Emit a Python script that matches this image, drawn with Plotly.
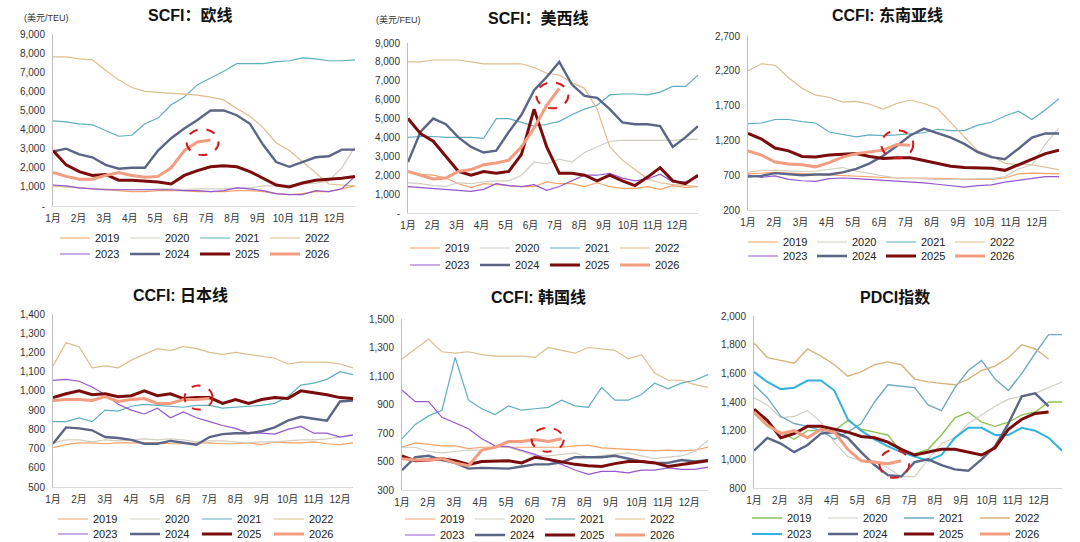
import plotly.graph_objects as go

# 运价指数季节性对比：SCFI / CCFI / PDCI

W, H = 1080, 542
YEARS = ["2019", "2020", "2021", "2022", "2023", "2024", "2025", "2026"]
MONTHS = [f"{m}月" for m in range(1, 13)]

# SCFI 欧线 (美元/TEU)
SCFI_EU = {
    "2019": [1050, 1000, 950, 900, 850, 800, 750, 750, 800, 800, 800, 750, 750, 750, 800, 800, 750, 650, 600, 650, 750, 750, 900, 1050],
    "2020": [1100, 1000, 950, 900, 900, 850, 850, 850, 900, 900, 850, 900, 900, 900, 950, 950, 1050, 1050, 1100, 1150, 1200, 1300, 2000, 3100],
    "2021": [4450, 4400, 4300, 4250, 3950, 3650, 3700, 4300, 4600, 5300, 5700, 6350, 6700, 7050, 7450, 7450, 7450, 7550, 7600, 7750, 7700, 7600, 7600, 7650],
    "2022": [7800, 7800, 7700, 7650, 7100, 6600, 6200, 6000, 5950, 5900, 5850, 5800, 5700, 5550, 5100, 4700, 4100, 3300, 2900, 2300, 1700, 1150, 1100, 1050],
    "2023": [1100, 1050, 950, 900, 850, 850, 850, 850, 850, 850, 800, 800, 750, 800, 950, 900, 800, 650, 600, 600, 800, 750, 900, 1550],
    "2024": [2850, 3000, 2700, 2550, 2150, 1950, 2000, 2000, 2900, 3550, 4050, 4500, 5000, 5000, 4750, 4300, 3200, 2300, 2050, 2300, 2550, 2600, 2950, 2950],
    "2025": [2900, 2150, 1800, 1600, 1650, 1350, 1350, 1300, 1250, 1150, 1600, 1850, 2050, 2100, 2050, 1800, 1450, 1100, 1000, 1200, 1350, 1400, 1450, 1550],
    "2026": [1750, 1550, 1400, 1400, 1600, 1750, 1600, 1500, 1550, 2000, 2900, 3350, 3450],
}

# SCFI 美西线 (美元/FEU)
SCFI_USW = {
    "2019": [2200, 2050, 2000, 1850, 1550, 1350, 1550, 1500, 1450, 1400, 1400, 1650, 1550, 1550, 1400, 1600, 1400, 1300, 1300, 1400, 1250, 1450, 1350, 1400],
    "2020": [1600, 1550, 1450, 1400, 1600, 1550, 1650, 1700, 1700, 2000, 2700, 2600, 2850, 2700, 3200, 3500, 3800, 3850, 3850, 3850, 3850, 3850, 3900, 3900],
    "2021": [4000, 4050, 4050, 4000, 4000, 4000, 3950, 5000, 5000, 4800, 4600, 4700, 4850, 5200, 5500, 5700, 6250, 6300, 6300, 6250, 6400, 6700, 6700, 7300],
    "2022": [8000, 8000, 8100, 8100, 8100, 8000, 7900, 7900, 7900, 7900, 7700, 7400, 7300, 6900, 6600, 5500, 3500, 2800, 2300, 1800, 1600, 1500, 1450, 1400],
    "2023": [1400, 1350, 1300, 1250, 1200, 1150, 1250, 1550, 1450, 1400, 1500, 1200, 1400, 1700, 2000, 2000, 2100, 1850, 1700, 1800, 2050, 1650, 1650, 1900],
    "2024": [2700, 4300, 5000, 4700, 4000, 3500, 3200, 3300, 4300, 5200, 6500, 7200, 8000, 6800, 6200, 6100, 5500, 4800, 4700, 4700, 4600, 3500, 4000, 4600],
    "2025": [5000, 4200, 3800, 3000, 2200, 2000, 2200, 2100, 2200, 3100, 5500, 3500, 2100, 2100, 2000, 1700, 2000, 1700, 1450, 1900, 2400, 1700, 1550, 2000],
    "2026": [2200, 2000, 1800, 1850, 2200, 2300, 2550, 2650, 2800, 3500, 4500, 5700, 6600],
}

# CCFI 东南亚线
CCFI_SEA = {
    "2019": [720, 730, 740, 730, 720, 710, 700, 690, 690, 680, 670, 660, 660, 660, 650, 650, 640, 640, 640, 660, 720, 730, 730, 720],
    "2020": [740, 770, 770, 760, 750, 760, 790, 810, 760, 720, 690, 660, 650, 650, 640, 640, 650, 650, 650, 680, 790, 850, 1150, 1380],
    "2021": [1440, 1450, 1500, 1500, 1470, 1450, 1320, 1280, 1250, 1280, 1270, 1280, 1300, 1310, 1360, 1340, 1340, 1420, 1460, 1550, 1620, 1500, 1640, 1800],
    "2022": [2200, 2300, 2280, 2100, 1950, 1850, 1820, 1750, 1760, 1720, 1650, 1730, 1780, 1730, 1660, 1450, 1250, 1050, 980, 870, 850, 850, 820, 780],
    "2023": [700, 670, 690, 640, 620, 610, 650, 660, 650, 640, 630, 610, 600, 590, 570, 550, 530, 550, 560, 600, 630, 660, 680, 680],
    "2024": [680, 690, 730, 720, 700, 710, 710, 740, 790, 870, 980, 1120, 1270, 1370, 1300, 1240, 1150, 1030, 960, 930, 1080, 1240, 1300, 1300],
    "2025": [1300, 1220, 1090, 1050, 970, 960, 990, 1000, 1010, 970, 940, 950, 950, 910, 870, 830, 810, 810, 800, 770, 850, 940, 1010, 1060],
    "2026": [1050, 990, 890, 860, 850, 820, 880, 960, 1010, 1040, 1060, 1140, 1130],
}

# CCFI 日本线
CCFI_JP = {
    "2019": [705, 720, 730, 730, 725, 730, 730, 730, 730, 725, 725, 730, 730, 725, 725, 730, 720, 735, 730, 730, 735, 725, 720, 730],
    "2020": [730, 745, 745, 735, 745, 740, 745, 750, 745, 750, 745, 735, 740, 740, 735, 730, 735, 735, 740, 745, 745, 750, 760, 775],
    "2021": [840, 840, 860, 840, 900, 895, 920, 930, 925, 920, 915, 925, 925, 910, 915, 920, 925, 935, 970, 1030, 1040, 1060, 1100, 1085],
    "2022": [1130, 1250, 1230, 1120, 1130, 1120, 1160, 1190, 1220, 1210, 1230, 1220, 1200, 1190, 1200, 1190, 1180, 1170, 1140, 1150, 1150, 1150, 1140, 1120],
    "2023": [1055, 1060, 1050, 1020, 980, 930, 900, 880, 910, 860, 890, 860, 840, 820, 805, 780, 780, 775, 800, 815, 780, 780, 760, 770],
    "2024": [725, 810, 805, 795, 760, 755, 745, 725, 725, 740, 730, 720, 760, 775, 780, 780, 790, 810, 845, 865, 855, 845, 945, 950],
    "2025": [965, 985, 1000, 980, 985, 970, 975, 1000, 975, 985, 960, 965, 965, 935, 955, 935, 955, 965, 960, 1000, 990, 980, 965, 960],
    "2026": [950, 955, 955, 950, 970, 945, 955, 960, 935, 935, 955, 955, 960],
}

# CCFI 韩国线
CCFI_KR = {
    "2019": [600, 630, 620, 610, 610, 590, 600, 600, 600, 600, 595, 600, 600, 610, 615, 595, 590, 585, 575, 575, 580, 575, 580, 600],
    "2020": [600, 600, 570, 560, 570, 580, 580, 600, 600, 570, 540, 540, 550, 560, 530, 540, 550, 560, 540, 520, 530, 540, 570, 650],
    "2021": [660, 760, 820, 860, 1230, 930, 870, 830, 890, 860, 870, 880, 930, 890, 880, 1020, 930, 930, 970, 1050, 1010, 1050, 1070, 1110],
    "2022": [1220, 1290, 1360, 1270, 1260, 1270, 1250, 1240, 1240, 1240, 1230, 1300, 1280, 1260, 1300, 1290, 1280, 1220, 1250, 1120, 1070, 1070, 1040, 1020],
    "2023": [1000, 920, 920, 810, 770, 730, 660, 610, 605, 580, 550, 510, 480, 440, 410, 430, 430, 420, 440, 440, 455, 445, 445, 460],
    "2024": [440, 530, 540, 510, 490, 450, 455, 455, 450, 465, 480, 480, 495, 530, 530, 530, 540, 520, 500, 490, 490, 510, 500, 510],
    "2025": [540, 505, 510, 520, 505, 480, 500, 505, 505, 490, 530, 515, 495, 480, 470, 465, 485, 500, 500, 490, 465, 480, 495, 505],
    "2026": [520, 510, 510, 520, 490, 470, 580, 600, 640, 640, 655, 640, 660],
}

# PDCI 指数
PDCI = {
    "2019": [1320, 1230, 1190, 1140, 1200, 1200, 1200, 1270, 1210, 1190, 1170, 1050, 1040, 1070, 1170, 1290, 1330, 1260, 1230, 1260, 1310, 1330, 1400, 1400],
    "2020": [1430, 1380, 1290, 1300, 1340, 1260, 1120, 1020, 990, 990, 940, 880, 880, 1000, 1110, 1150, 1250, 1310, 1370, 1420, 1440, 1460, 1500, 1540],
    "2021": [1520, 1430, 1300, 1250, 1230, 1200, 1140, 1190, 1250, 1400, 1520, 1510, 1500, 1380, 1340, 1500, 1620, 1690, 1560, 1480, 1600, 1740, 1870, 1870],
    "2022": [1810, 1710, 1690, 1670, 1770, 1720, 1660, 1580, 1610, 1660, 1680, 1660, 1560, 1540, 1530, 1520, 1560, 1620, 1650, 1710, 1800, 1770, 1700],
    "2023": [1610, 1540, 1490, 1500, 1550, 1550, 1480, 1280, 1200, 1140, 1090, 1050, 1020, 990, 1030, 1150, 1220, 1220, 1170, 1170, 1220, 1200, 1150, 1060],
    "2024": [1060, 1150, 1110, 1050, 1100, 1180, 1190, 1150, 1050, 960, 890, 880, 980, 1000, 960, 930, 920, 1000, 1090, 1250, 1440, 1460, 1370],
    "2025": [1350, 1270, 1150, 1180, 1230, 1230, 1210, 1190, 1160, 1150, 1120, 1070, 1030, 1050, 1070, 1070, 1050, 1030, 1080, 1210, 1280, 1320, 1330],
    "2026": [1330, 1240, 1180, 1200, 1150, 1210, 1190, 1070, 990, 980, 970, 990],
}

COLORS = {"2019": "#F5A267", "2020": "#D2CEC4", "2021": "#5FAEC0", "2022": "#DDBD8E",
          "2023": "#9556CF", "2024": "#5B6586", "2025": "#7A0C0C", "2026": "#F39C80"}
COLORS_PDCI = dict(COLORS, **{"2019": "#8CC356", "2021": "#6FA8C6", "2022": "#D8B27B", "2023": "#33B1E0"})
WIDTHS = {"2019": 1.2, "2020": 1.2, "2021": 1.2, "2022": 1.2, "2023": 1.2, "2024": 2.4, "2025": 3.0, "2026": 3.0}
WIDTHS_PDCI = dict(WIDTHS, **{"2019": 1.4, "2021": 1.4, "2022": 1.4, "2023": 2.0})

FONT = "Liberation Sans, Arial, Noto Sans CJK SC, sans-serif"

# box = (left, right, top, bottom) in pixels
# ell = (dx, dy, rx, ry): ellipse centre offset from the last 2026 point, screen pixels
PANELS = [
    dict(title="SCFI：欧线", data=SCFI_EU, box=(53, 355, 34, 206), xend=12.8, yr=(0, 9000, 1000),
         dash0=True, title_xy=(190, 15), unit="(美元/TEU)", unit_xy=(46, 18),
         leg=(55, 238, 254), entry=25, colors=COLORS, widths=WIDTHS, ell=(-8, 2, 16, 13)),
    dict(title="SCFI：美西线", data=SCFI_USW, box=(408, 698, 43, 213), xend=12.84, yr=(0, 9000, 1000),
         dash0=True, title_xy=(538, 18), unit="(美元/FEU)", unit_xy=(398, 20),
         leg=(405, 248, 265), entry=25, colors=COLORS, widths=WIDTHS, ell=(-7, 7, 16, 13)),
    dict(title="CCFI: 东南亚线", data=CCFI_SEA, box=(748, 1059, 36, 210), xend=12.83, yr=(200, 2700, 500),
         dash0=False, title_xy=(887, 15), unit=None, unit_xy=None,
         leg=(743, 242, 256), entry=24, colors=COLORS, widths=WIDTHS, ell=(-13, -1, 16, 14)),
    dict(title="CCFI: 日本线", data=CCFI_JP, box=(53, 353, 314, 487), xend=12.5, yr=(500, 1400, 100),
         dash0=False, title_xy=(180, 295), unit=None, unit_xy=None,
         leg=(53, 519, 534), entry=27, colors=COLORS, widths=WIDTHS, ell=(-11, -1, 14, 12)),
    dict(title="CCFI: 韩国线", data=CCFI_KR, box=(402, 708, 319, 490), xend=12.72, yr=(300, 1500, 200),
         dash0=False, title_xy=(538, 297), unit=None, unit_xy=None,
         leg=(400, 519, 535), entry=25, colors=COLORS, widths=WIDTHS, ell=(-14, 1, 16, 12)),
    dict(title="PDCI指数", data=PDCI, box=(754, 1062, 316, 488), xend=12.89, yr=(800, 2000, 200),
         dash0=False, title_xy=(895, 297), unit=None, unit_xy=None,
         leg=(747, 518, 534), entry=31, colors=COLORS_PDCI, widths=WIDTHS_PDCI, ell=(-7, 3, 15, 14)),
]


def fx(p):
    return p / W


def fy(p):
    return 1 - p / H


fig = go.Figure()
layout = dict(width=W, height=H, margin=dict(l=0, r=0, t=0, b=0, autoexpand=False),
              paper_bgcolor="white", plot_bgcolor="white",
              font=dict(family=FONT, color="#333333"), showlegend=True)
annotations = []
shapes = []

for k, p in enumerate(PANELS, start=1):
    xa = "x" if k == 1 else f"x{k}"
    ya = "y" if k == 1 else f"y{k}"
    leg1 = "legend" if k == 1 else f"legend{2 * k - 1}"
    leg2 = f"legend{2 * k}"
    step = (p["xend"] - 1) / 23

    for i, yr in enumerate(YEARS):
        vals = p["data"][yr]
        xs = [1 + j * step for j in range(len(vals))]
        fig.add_trace(go.Scatter(
            x=xs, y=vals, mode="lines", name=yr,
            line=dict(color=p["colors"][yr], width=p["widths"][yr]),
            xaxis=xa, yaxis=ya, legend=leg1 if i < 4 else leg2,
            hoverinfo="skip",
        ))

    l, r, t, b = p["box"]
    y0, y1, dy = p["yr"]
    tv = list(range(y0, y1 + 1, dy))
    tt = ["-" if (v == 0 and p["dash0"]) else f"{v:,}" for v in tv]
    axkey = "" if k == 1 else str(k)
    layout["xaxis" + axkey] = dict(
        domain=[fx(l), fx(r)], range=[1, p["xend"]], anchor=ya, automargin=False,
        tickvals=list(range(1, 13)), ticktext=MONTHS, ticks="",
        showgrid=False, zeroline=False, showline=True, linecolor="#D9D9D9", linewidth=1,
        tickfont=dict(size=10, color="#333333"), ticklabelstandoff=3,
    )
    layout["yaxis" + axkey] = dict(
        domain=[fy(b), fy(t)], range=[y0, y1], anchor=xa, automargin=False,
        tickvals=tv, ticktext=tt, ticks="",
        showgrid=False, zeroline=False, showline=True, linecolor="#BFBFBF", linewidth=1,
        tickfont=dict(size=10, color="#333333"), ticklabelstandoff=5,
    )

    lx, ly1, ly2 = p["leg"]
    for key, ly in ((leg1, ly1), (leg2, ly2)):
        layout[key] = dict(
            x=fx(lx), y=fy(ly), xanchor="left", yanchor="middle", orientation="h",
            entrywidth=p["entry"], entrywidthmode="pixels", bgcolor="rgba(0,0,0,0)",
            font=dict(size=11, color="#222222"), itemclick=False, itemdoubleclick=False,
        )

    tx, ty = p["title_xy"]
    annotations.append(dict(
        text=f"<b>{p['title']}</b>", x=fx(tx), y=fy(ty), xref="paper", yref="paper",
        xanchor="center", yanchor="middle", showarrow=False,
        font=dict(size=16, color="#111111"),
    ))
    if p["unit"]:
        ux, uy = p["unit_xy"]
        annotations.append(dict(
            text=p["unit"], x=fx(ux), y=fy(uy), xref="paper", yref="paper",
            xanchor="center", yanchor="middle", showarrow=False,
            font=dict(size=9, color="#333333"),
        ))

    # red dashed ellipse around the latest 2026 reading
    last = p["data"]["2026"]
    edx, edy, erx, ery = p["ell"]
    shapes.append(dict(
        type="circle", xref=xa, yref=ya, xsizemode="pixel", ysizemode="pixel",
        xanchor=1 + (len(last) - 1) * step, yanchor=last[-1],
        x0=edx - erx, x1=edx + erx, y0=-edy - ery, y1=-edy + ery,
        line=dict(color="#D7191C", width=2, dash="dash"),
    ))

layout["annotations"] = annotations
layout["shapes"] = shapes
fig.update_layout(**layout)

# the page's default body margin would push the figure off its 1080x542 frame
fig.write_html("out.html", config={"displayModeBar": False},
               post_script="document.body.style.margin='0px';")
